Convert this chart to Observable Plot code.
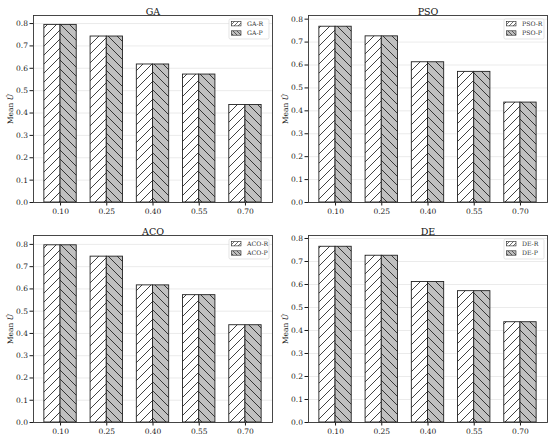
<!DOCTYPE html>
<html><head><meta charset="utf-8">
<script src="https://cdn.jsdelivr.net/npm/d3@7"></script>
<script src="https://cdn.jsdelivr.net/npm/@observablehq/plot@0.6"></script>
<style>
html,body{margin:0;padding:0;background:#fff;}
#wrap{display:grid;grid-template-columns:275px 275px;grid-template-rows:220px 219px;width:550px;height:439px;}
#wrap svg{display:block}
</style></head><body>
<svg width="0" height="0" style="position:absolute">
<defs>
<pattern id="hR" patternUnits="userSpaceOnUse" width="9" height="9">
<rect width="9" height="9" fill="#ffffff"/>
<path d="M-2,2 L2,-2 M0,9 L9,0 M7,11 L11,7" stroke="#111" stroke-width="0.8"/>
</pattern>
<pattern id="hP" patternUnits="userSpaceOnUse" width="9" height="9">
<rect width="9" height="9" fill="#c0c0c0"/>
<path d="M-2,7 L2,11 M0,0 L9,9 M7,-2 L11,2" stroke="#111" stroke-width="0.8"/>
</pattern>
<pattern id="lR" patternUnits="userSpaceOnUse" width="4" height="4">
<rect width="4" height="4" fill="#ffffff"/>
<path d="M-1,1 L1,-1 M0,4 L4,0 M3,5 L5,3" stroke="#111" stroke-width="0.6"/>
</pattern>
<pattern id="lP" patternUnits="userSpaceOnUse" width="4" height="4">
<rect width="4" height="4" fill="#c0c0c0"/>
<path d="M-1,3 L1,5 M0,0 L4,4 M3,-1 L5,1" stroke="#111" stroke-width="0.6"/>
</pattern>
</defs>
</svg>
<div id="wrap"></div>
<script>
const thresholds = ["0.10", "0.25", "0.40", "0.55", "0.70"];
const gaR  = [0.794, 0.742, 0.617, 0.572, 0.436];
const gaP  = [0.794, 0.742, 0.617, 0.572, 0.436];
const psoR = [0.767, 0.725, 0.612, 0.570, 0.436];
const psoP = [0.767, 0.725, 0.612, 0.570, 0.436];
const acoR = [0.796, 0.745, 0.616, 0.572, 0.437];
const acoP = [0.796, 0.745, 0.616, 0.572, 0.437];
const deR  = [0.764, 0.725, 0.611, 0.571, 0.436];
const deP  = [0.764, 0.725, 0.611, 0.571, 0.436];
const yTicks = [0, 0.1, 0.2, 0.3, 0.4, 0.5, 0.6, 0.7, 0.8];

const panels = [
  {name: "GA", r: gaR, p: gaP, ymax: 0.836, h: 220},
  {name: "PSO", r: psoR, p: psoP, ymax: 0.816, h: 220},
  {name: "ACO", r: acoR, p: acoP, ymax: 0.840, h: 219},
  {name: "DE", r: deR, p: deP, ymax: 0.813, h: 219}
];

const W = 275, mL = 33, mR = 3, mT = 15;
const font = "DejaVu Serif";

for (const pn of panels) {
  const rows = [];
  thresholds.forEach((t, i) => {
    rows.push({i, t, s: "R", v: pn.r[i]});
    rows.push({i, t, s: "P", v: pn.p[i]});
  });
  const chart = Plot.plot({
    width: W, height: pn.h,
    marginLeft: mL, marginRight: mR, marginTop: mT, marginBottom: pn.h - 202,
    style: {fontFamily: font, fontSize: "7.5px", color: "#1a1a1a", background: "#fff"},
    x: {domain: [-0.585, 4.585]},
    y: {domain: [0, pn.ymax]},
    marks: [
      Plot.gridY(yTicks, {stroke: "#d0d0d0", strokeOpacity: 0.7, strokeWidth: 0.6}),
      Plot.rectY(rows.filter(d => d.s === "R"), {x1: d => d.i - 0.35, x2: d => d.i, y: "v", fill: "url(#hR)", stroke: "#222", strokeWidth: 0.9}),
      Plot.rectY(rows.filter(d => d.s === "P"), {x1: d => d.i, x2: d => d.i + 0.35, y: "v", fill: "url(#hP)", stroke: "#222", strokeWidth: 0.9}),
      Plot.axisX({ticks: [0, 1, 2, 3, 4], tickFormat: i => thresholds[i], tickSize: 3.5, tickPadding: 2.5, fontSize: 7.5, label: null}),
      Plot.axisY({ticks: yTicks, tickFormat: d3.format(".1f"), tickSize: 3.5, tickPadding: 2, fontSize: 7.5,
        label: "Mean Û", labelAnchor: "center", labelArrow: "none", labelOffset: 26}),
      Plot.frame({stroke: "#333", strokeWidth: 0.9}),
      Plot.text([pn.name], {text: d => d, frameAnchor: "top", dy: -7.5, fontSize: 9.5, fill: "#111"})
    ]
  });
  const lab = d3.select(chart).select('g[aria-label="y-axis label"] text');
  if (!lab.empty()) {
    lab.attr("font-size", 7.5).text("Mean ");
    lab.append("tspan").attr("font-style", "italic").text("Û");
  }
  const svg = d3.select(chart);
  const g = svg.append("g").attr("transform", `translate(229,19)`).attr("font-family", font).attr("font-size", 6.2).attr("text-anchor", "start");
  g.append("rect").attr("x", 0).attr("y", 0).attr("width", 40).attr("height", 20)
    .attr("fill", "#fff").attr("fill-opacity", 0.85).attr("stroke", "#d8d8d8").attr("stroke-width", 0.7).attr("rx", 1.5);
  [["R", "url(#lR)"], ["P", "url(#lP)"]].forEach(([s, f], k) => {
    const yy = 4.7 + k * 9.3;
    g.append("rect").attr("x", 2.5).attr("y", yy - 2.2).attr("width", 9.5).attr("height", 4.4)
      .attr("fill", f).attr("stroke", "#222").attr("stroke-width", 0.6);
    g.append("text").attr("x", 18).attr("y", yy).attr("dy", "0.35em").attr("fill", "#333").text(`${pn.name}-${s}`);
  });
  document.getElementById("wrap").appendChild(chart);
}
</script>
</body></html>
